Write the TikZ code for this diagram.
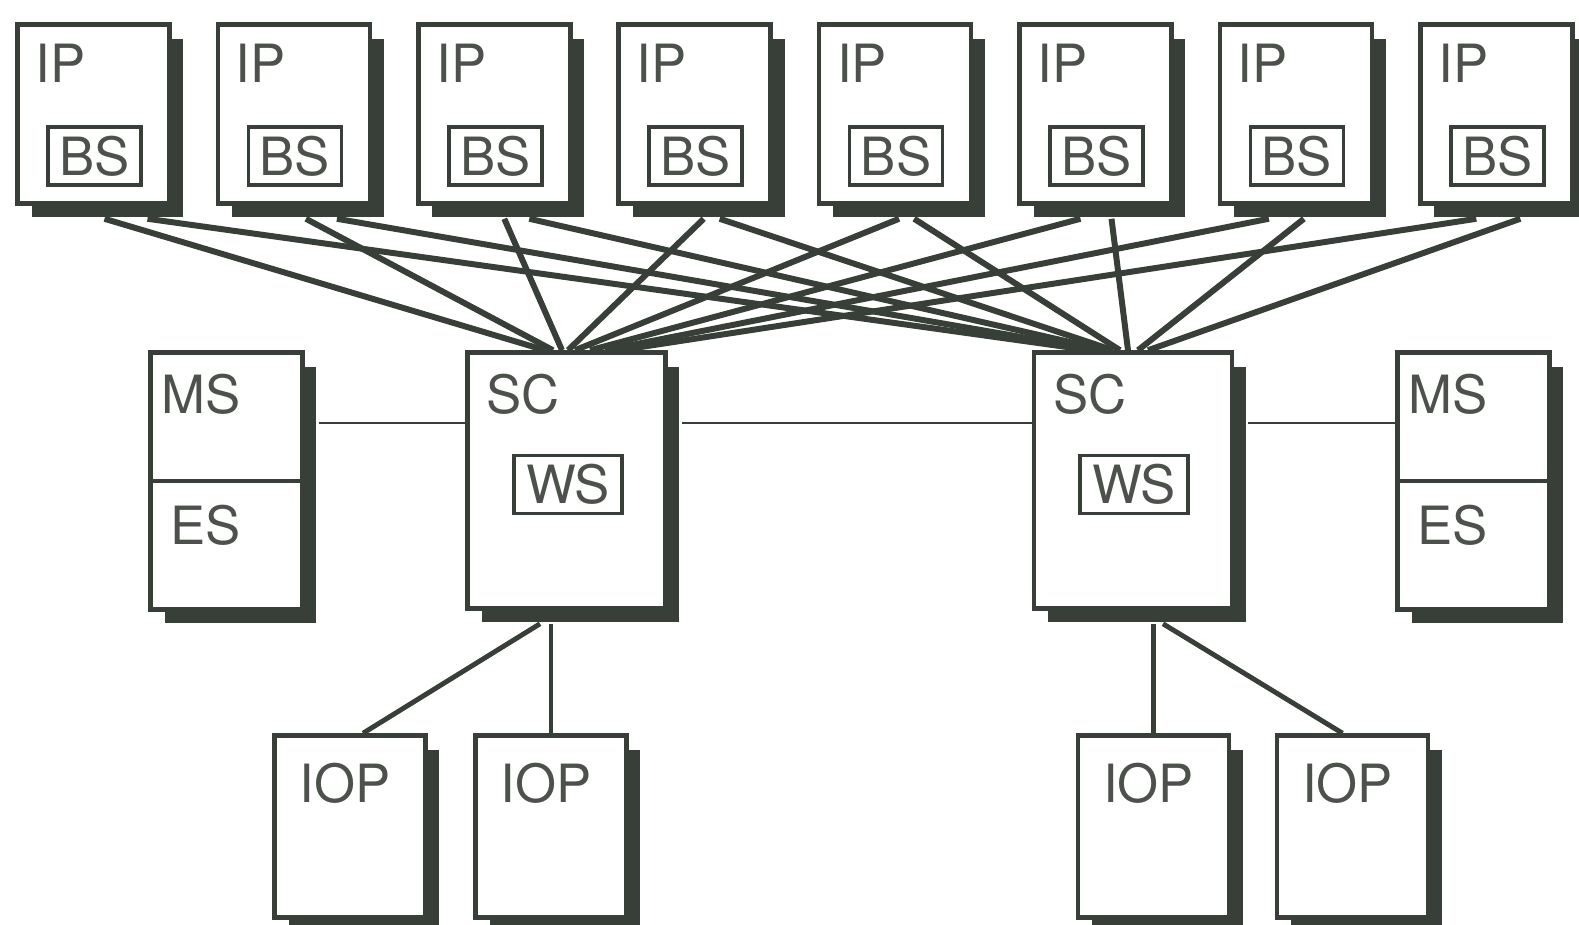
\documentclass[tikz,border=0pt]{standalone}
\usepackage{fontspec}
\setmainfont{TeX Gyre Heros}
\usetikzlibrary{shadows,positioning}
\definecolor{ink}{RGB}{56,62,56}
\tikzset{
  unit/.style={draw=ink, line width=2.6pt, fill=white, inner sep=0pt,
    drop shadow={shadow xshift=0.28cm, shadow yshift=-0.28cm, fill=ink, opacity=1}},
  ipbox/.style={unit, minimum width=3.04cm, minimum height=3.58cm},
  msbox/.style={unit, minimum width=3.04cm, minimum height=5.14cm},
  scbox/.style={unit, minimum width=3.96cm, minimum height=5.12cm},
  iobox/.style={unit, minimum width=3.02cm, minimum height=3.64cm},
  tag/.style={text=ink!90, font=\fontsize{30}{36}\selectfont, inner sep=0pt, anchor=base west},
  inbox/.style={draw=ink, line width=2pt, fill=white, text=ink!90,
    font=\fontsize{30}{36}\selectfont, inner sep=0pt, minimum height=1.16cm},
  link/.style={draw=ink, line width=3.4pt},
  drop/.style={draw=ink, line width=2.8pt},
  bus/.style={draw=ink, line width=1.2pt},
}

\begin{document}
\begin{tikzpicture}[x=0.02cm, y=-0.02cm]
    \useasboundingbox (0,0) rectangle (1579,924);

    % Top row: instruction processors with buffer storage
    \foreach \i in {1,...,8} {
        \node [ipbox] (ip\i) at ({93.5+200.4*(\i-1)},114) {};
        \node [tag] (iptag\i) at ([shift={(20,60)}]ip\i.north west) {IP};
        \node [inbox, minimum width=1.86cm] (bs\i) at ([shift={(1,42)}]ip\i.center) {BS};
    }

    % Middle row: storage and system controllers
    \node [msbox] (msL) at (226.5,481) {};
    \draw [ink, line width=2.6pt] (msL.west) -- (msL.east);
    \node [tag] (msLtag) at ([shift={(13,63)}]msL.north west) {MS};
    \node [tag] (esLtag) at ([shift={(22,63)}]msL.west) {ES};

    \node [scbox] (scL) at (566.5,480.5) {};
    \node [tag] (scLtag) at ([shift={(21,63)}]scL.north west) {SC};
    \node [inbox, minimum width=2.16cm] (wsL) at ([shift={(1.5,4)}]scL.center) {WS};

    \node [scbox] (scR) at (1133,480.5) {};
    \node [tag] (scRtag) at ([shift={(21,63)}]scR.north west) {SC};
    \node [inbox, minimum width=2.16cm] (wsR) at ([shift={(1,4)}]scR.center) {WS};

    \node [msbox] (msR) at (1473.5,481) {};
    \draw [ink, line width=2.6pt] (msR.west) -- (msR.east);
    \node [tag] (msRtag) at ([shift={(13,63)}]msR.north west) {MS};
    \node [tag] (esRtag) at ([shift={(22,63)}]msR.west) {ES};

    % Bottom row: I/O processors
    \node [iobox] (iop1) at (350,826.5) {};
    \node [iobox] (iop2) at (551,826.5) {};
    \node [iobox] (iop3) at (1153.5,826.5) {};
    \node [iobox] (iop4) at (1352.5,826.5) {};
    \foreach \k in {1,...,4}
        \node [tag] (ioptag\k) at ([shift={(27,69)}]iop\k.north west) {IOP};

    % Every IP to both SCs
    \foreach \i/\a/\b/\c/\d in {1/11/54/-21.5/-43, 2/12/43/-13.5/-35, 3/10/35/-4.5/-27,
        4/9/25/1.5/-20, 5/4/19/8.5/-13, 6/-15/16/23.5/-5, 7/-27/8/38.5/5, 8/-20/24/53.5/15} {
        \draw [link] ([shift={(\a,13)}]ip\i.south) -- ([shift={(\c,0)}]scL.north);
        \draw [link] ([shift={(\b,13)}]ip\i.south) -- ([shift={(\d,0)}]scR.north);
    }

    % Storage buses
    \draw [bus] ([shift={(14,-58)}]msL.east) -- ([shift={(0,-57.5)}]scL.west);
    \draw [bus] ([shift={(14,-57.5)}]scL.east) -- ([shift={(0,-57.5)}]scR.west);
    \draw [bus] ([shift={(14,-57.5)}]scR.east) -- ([shift={(0,-58)}]msR.west);

    % SC to IOPs
    \draw [drop] ([shift={(-26.5,13)}]scL.south) -- ([shift={(13,0)}]iop1.north);
    \draw [drop] (iop2.north) -- ([shift={(0,13)}]iop2.north |- scL.south);
    \draw [drop] (iop3.north) -- ([shift={(0,13)}]iop3.north |- scR.south);
    \draw [drop] ([shift={(30,13)}]scR.south) -- ([shift={(-10,0)}]iop4.north);

\end{tikzpicture}
\end{document}
